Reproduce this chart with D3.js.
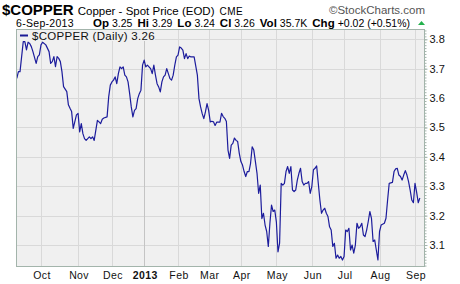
<!DOCTYPE html>
<html>
<head>
<meta charset="utf-8">
<script src="https://cdn.jsdelivr.net/npm/d3@7"></script>
<style>
  body { margin: 0; background: #fff; }
  svg { display: block; font-family: "Liberation Sans", Arial, sans-serif; }
</style>
</head>
<body>
<svg width="460" height="284"></svg>
<script>
// closes (trading days, some skipped)
var dates = [
  "2012-09-10","2012-09-11","2012-09-12","2012-09-14","2012-09-17","2012-09-18","2012-09-19","2012-09-20","2012-09-21","2012-09-24",
  "2012-09-26","2012-09-27","2012-09-28","2012-10-01","2012-10-02","2012-10-04","2012-10-08","2012-10-09","2012-10-10","2012-10-11",
  "2012-10-12","2012-10-15","2012-10-16","2012-10-17","2012-10-18","2012-10-19","2012-10-23","2012-10-24","2012-10-25","2012-10-26",
  "2012-10-29","2012-10-30","2012-10-31","2012-11-01","2012-11-02","2012-11-05","2012-11-06","2012-11-07","2012-11-08","2012-11-09",
  "2012-11-12","2012-11-13","2012-11-14","2012-11-15","2012-11-19","2012-11-20","2012-11-21","2012-11-23","2012-11-26","2012-11-28",
  "2012-11-29","2012-11-30","2012-12-03","2012-12-04","2012-12-05","2012-12-06","2012-12-07","2012-12-10","2012-12-11","2012-12-12",
  "2012-12-13","2012-12-14","2012-12-17","2012-12-18","2012-12-19","2012-12-20","2012-12-21","2012-12-24","2012-12-26","2012-12-27",
  "2012-12-28","2012-12-31","2013-01-02","2013-01-03","2013-01-04","2013-01-08","2013-01-09","2013-01-10","2013-01-11","2013-01-14",
  "2013-01-15","2013-01-16","2013-01-17","2013-01-18","2013-01-22","2013-01-23","2013-01-24","2013-01-25","2013-01-28","2013-01-29",
  "2013-01-30","2013-01-31","2013-02-01","2013-02-04","2013-02-05","2013-02-06","2013-02-07","2013-02-08","2013-02-11","2013-02-12",
  "2013-02-13","2013-02-15","2013-02-20","2013-02-21","2013-02-22","2013-02-25","2013-02-26","2013-02-27","2013-02-28","2013-03-01",
  "2013-03-04","2013-03-05","2013-03-06","2013-03-07","2013-03-08","2013-03-11","2013-03-12","2013-03-13","2013-03-14","2013-03-15",
  "2013-03-18","2013-03-19","2013-03-20","2013-03-21","2013-03-22","2013-03-25","2013-03-26","2013-03-27","2013-03-28","2013-04-01",
  "2013-04-02","2013-04-03","2013-04-04","2013-04-05","2013-04-08","2013-04-09","2013-04-10","2013-04-11","2013-04-12","2013-04-15",
  "2013-04-16","2013-04-17","2013-04-18","2013-04-19","2013-04-22","2013-04-23","2013-04-24","2013-04-25","2013-04-26","2013-04-29",
  "2013-04-30","2013-05-01","2013-05-02","2013-05-03","2013-05-06","2013-05-07","2013-05-08","2013-05-09","2013-05-10","2013-05-13",
  "2013-05-14","2013-05-15","2013-05-16","2013-05-17","2013-05-20","2013-05-21","2013-05-22","2013-05-23","2013-05-24","2013-05-28",
  "2013-05-29","2013-05-30","2013-05-31","2013-06-03","2013-06-04","2013-06-05","2013-06-06","2013-06-07","2013-06-10","2013-06-11",
  "2013-06-12","2013-06-13","2013-06-14","2013-06-17","2013-06-18","2013-06-19","2013-06-20","2013-06-21","2013-06-24","2013-06-25",
  "2013-06-26","2013-06-27","2013-06-28","2013-07-01","2013-07-02","2013-07-03","2013-07-05","2013-07-08","2013-07-09","2013-07-10",
  "2013-07-11","2013-07-12","2013-07-15","2013-07-16","2013-07-17","2013-07-18","2013-07-19","2013-07-22","2013-07-23","2013-07-24",
  "2013-07-25","2013-07-26","2013-07-29","2013-07-30","2013-07-31","2013-08-01","2013-08-02","2013-08-06","2013-08-07","2013-08-08",
  "2013-08-09","2013-08-13","2013-08-14","2013-08-15","2013-08-16","2013-08-19","2013-08-20","2013-08-21","2013-08-22","2013-08-23",
  "2013-08-26","2013-08-27","2013-08-28","2013-08-29","2013-08-30","2013-09-03","2013-09-04","2013-09-05","2013-09-06"
];
var closes = [
  3.667,3.690,3.690,3.792,3.792,3.764,3.790,3.786,3.775,3.758,
  3.718,3.741,3.747,3.781,3.790,3.781,3.758,3.718,3.724,3.741,
  3.707,3.741,3.735,3.724,3.690,3.639,3.622,3.577,3.565,3.554,
  3.497,3.520,3.543,3.548,3.485,3.513,3.479,3.462,3.456,3.462,
  3.468,3.462,3.468,3.456,3.524,3.519,3.513,3.528,3.532,3.536,
  3.604,3.644,3.655,3.661,3.672,3.649,3.683,3.706,3.700,3.706,
  3.678,3.672,3.655,3.615,3.570,3.536,3.558,3.564,3.598,3.615,
  3.627,3.712,3.729,3.706,3.712,3.700,3.683,3.712,3.678,3.649,
  3.638,3.621,3.655,3.672,3.678,3.700,3.683,3.666,3.661,3.678,
  3.712,3.740,3.746,3.774,3.770,3.763,3.734,3.751,3.734,3.743,
  3.740,3.740,3.678,3.598,3.570,3.547,3.530,3.553,3.581,3.558,
  3.519,3.521,3.519,3.507,3.518,3.518,3.518,3.548,3.537,3.531,
  3.520,3.423,3.395,3.440,3.446,3.464,3.456,3.452,3.412,3.384,
  3.372,3.350,3.333,3.350,3.350,3.378,3.434,3.423,3.384,3.344,
  3.276,3.304,3.190,3.208,3.168,3.146,3.095,3.174,3.236,3.214,
  3.219,3.179,3.077,3.106,3.310,3.304,3.310,3.350,3.367,3.344,
  3.367,3.287,3.282,3.287,3.321,3.344,3.361,3.316,3.304,3.310,
  3.310,3.316,3.276,3.299,3.356,3.361,3.369,3.310,3.253,3.208,
  3.219,3.225,3.208,3.197,3.162,3.151,3.095,3.106,3.055,3.066,
  3.055,3.061,3.049,3.061,3.151,3.146,3.157,3.083,3.100,3.072,
  3.100,3.174,3.157,3.162,3.174,3.134,3.129,3.151,3.180,3.214,
  3.191,3.112,3.117,3.083,3.049,3.146,3.168,3.174,3.191,3.253,
  3.310,3.313,3.350,3.359,3.361,3.338,3.333,3.321,3.338,3.353,
  3.338,3.316,3.287,3.253,3.244,3.310,3.280,3.244,3.260
];
var holidays = ["2012-11-22","2012-12-25","2013-01-01","2013-01-21","2013-02-18","2013-03-29","2013-05-27","2013-07-04","2013-09-02"];
var monthLabels = ["Oct","Nov","Dec","2013","Feb","Mar","Apr","May","Jun","Jul","Aug","Sep"];
var yTicks = [3.1, 3.2, 3.3, 3.4, 3.5, 3.6, 3.7, 3.8];

var svg = d3.select("svg");
var fmt = d3.timeFormat("%Y-%m-%d");
var parse = d3.timeParse("%Y-%m-%d");

// trading calendar: weekdays minus holidays
var days = d3.timeDays(parse("2012-09-07"), parse("2013-09-07"))
  .filter(function(d) { return d.getDay() != 0 && d.getDay() != 6 && holidays.indexOf(fmt(d)) < 0; });
var pos = {};
days.forEach(function(d, i) { pos[fmt(d)] = i; });

var data = dates.map(function(d, i) { return { i: pos[d], v: closes[i] }; });

// first trading day of each month from Oct 2012
var monthStarts = [];
days.forEach(function(d, i) {
  if (i > 0 && d.getMonth() != days[i - 1].getMonth()) monthStarts.push(i);
});

var pl = 16, pr = 425, pt = 29, pb = 267;
var x = d3.scaleLinear().domain([0.5, 254.2]).range([pl, pr]);
var y = d3.scaleLinear().domain([3.0252, 3.835]).range([pb, pt]);

// plot background
svg.append("rect").attr("x", pl).attr("y", pt).attr("width", pr - pl).attr("height", pb - pt)
  .attr("fill", "#f0f0f0");

// grid
svg.append("g").selectAll("line").data(yTicks).enter().append("line")
  .attr("x1", pl).attr("x2", pr)
  .attr("y1", function(d) { return Math.round(y(d)) + 0.5; })
  .attr("y2", function(d) { return Math.round(y(d)) + 0.5; })
  .attr("stroke", "#d9d9d9");
svg.append("g").selectAll("line").data(monthStarts).enter().append("line")
  .attr("x1", function(d) { return Math.round(x(d)) + 0.5; })
  .attr("x2", function(d) { return Math.round(x(d)) + 0.5; })
  .attr("y1", pt).attr("y2", pb)
  .attr("stroke", function(d, i) { return monthLabels[i] == "2013" ? "#c4c4c4" : "#d9d9d9"; });

// legend
svg.append("rect").attr("x", pl + 1).attr("y", pt + 1).attr("width", 138).attr("height", 11).attr("fill", "#f0f0f0");
svg.append("line").attr("x1", 20).attr("x2", 28).attr("y1", 35.5).attr("y2", 35.5)
  .attr("stroke", "#1a1a96").attr("stroke-width", 2);
svg.append("text").attr("x", 32).attr("y", 39.5).attr("font-size", 11.5).attr("fill", "#111")
  .attr("letter-spacing", 0.3).text("$COPPER (Daily) 3.26");

// price line
svg.append("path").datum(data)
  .attr("fill", "none").attr("stroke", "#1c1c9c").attr("stroke-width", 1.2)
  .attr("stroke-linejoin", "round")
  .attr("d", d3.line().x(function(d) { return x(d.i); }).y(function(d) { return y(d.v); }));

// frame
svg.append("rect").attr("x", pl + 0.5).attr("y", pt + 0.5).attr("width", pr - pl - 1).attr("height", pb - pt - 1)
  .attr("fill", "none").attr("stroke", "#a3b4ab");

// right axis
var yAxis = d3.axisRight(y).tickValues(yTicks).tickFormat(d3.format(".1f")).tickSize(3).tickPadding(2);
var ya = svg.append("g").attr("transform", "translate(" + (pr - 0.5) + ",0)").call(yAxis);
ya.select(".domain").remove();
ya.selectAll("line").attr("stroke", "#a3b4ab");
ya.selectAll("text").attr("font-size", 11).attr("fill", "#111").attr("font-family", "Liberation Sans, Arial");
var minor = svg.append("g").attr("transform", "translate(" + (pr - 0.5) + ",0)")
  .call(d3.axisRight(y).ticks(80).tickSize(2).tickFormat(""));
minor.select(".domain").remove();
minor.selectAll("line").attr("stroke", "#a3b4ab");

// bottom labels
svg.append("g").selectAll("text").data(monthStarts).enter().append("text")
  .attr("x", function(d) { return x(d) + 1; }).attr("y", 279)
  .attr("text-anchor", "middle").attr("font-size", 10.5)
  .attr("font-weight", function(d, i) { return monthLabels[i] == "2013" ? "bold" : "normal"; })
  .attr("fill", "#111").attr("letter-spacing", 0.4)
  .text(function(d, i) { return monthLabels[i]; });

// header
var h1 = svg.append("text").attr("x", 2).attr("y", 15).attr("fill", "#000");
h1.append("tspan").attr("font-size", 15).attr("font-weight", "bold").text("$COPPER");
h1.append("tspan").attr("font-size", 11.5).attr("dx", 4).text("Copper - Spot Price (EOD)");
h1.append("tspan").attr("font-size", 10).attr("dx", 5).attr("letter-spacing", 0.5).text("CME");
svg.append("text").attr("x", 425).attr("y", 14).attr("text-anchor", "end").attr("font-size", 11.5)
  .attr("fill", "#555").text("\u00a9StockCharts.com");

svg.append("text").attr("x", 16).attr("y", 27).attr("font-size", 10.5).attr("fill", "#000")
  .attr("letter-spacing", 0.3).text("6-Sep-2013");
var quote = [["Op", "3.25"], ["Hi", "3.29"], ["Lo", "3.24"], ["Cl", "3.26"], ["Vol", "35.7K"], ["Chg", "+0.02 (+0.51%)"]];
var q = svg.append("text").attr("x", 93).attr("y", 27).attr("font-size", 10.5).attr("fill", "#000");
quote.forEach(function(p, i) {
  q.append("tspan").attr("font-weight", "bold").attr("font-size", 11.5).attr("dx", i ? 5 : 0).text(p[0]);
  q.append("tspan").attr("dx", 3).text(p[1]);
});
svg.append("path").attr("d", "M418,25 L425,25 L421.5,21 Z").attr("fill", "#22b14c");
</script>
</body>
</html>
